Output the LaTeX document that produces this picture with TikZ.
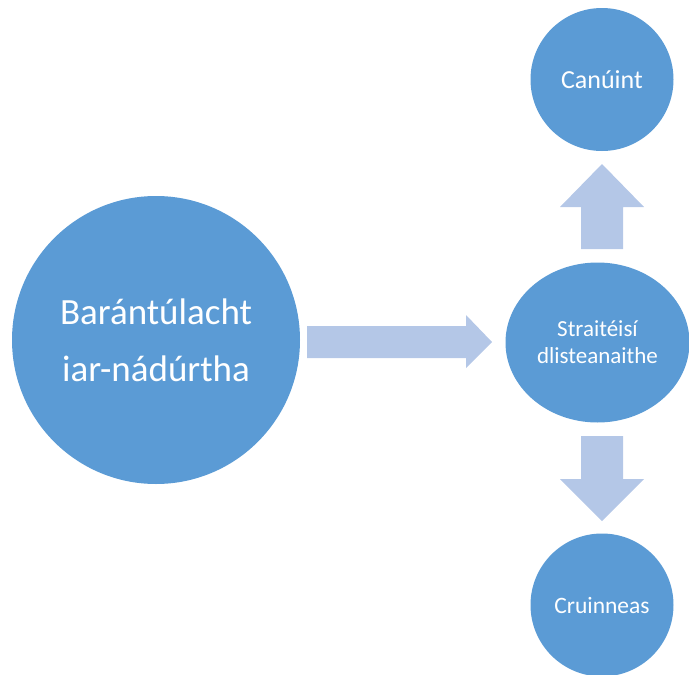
\documentclass[tikz,border=0pt]{standalone}
\usepackage{fontspec}
\setmainfont{Carlito}
\usetikzlibrary{shapes.geometric}
\definecolor{circ}{HTML}{5B9BD5}
\definecolor{arr}{HTML}{B4C7E7}
\begin{document}
\begin{tikzpicture}[x=1pt,y=-1pt,
  bub/.style={circle,fill=circ,draw=none,text=white,align=center,inner sep=0pt},
  blockarrow/.style={fill=arr,draw=none}]
\useasboundingbox (0,0) rectangle (689,675);
\node[bub,minimum size=288pt,font=\fontsize{37}{57}\selectfont] (big) at (156,340) {Barántúlacht\\iar-nádúrtha};
\node[bub,ellipse,minimum width=184pt,minimum height=160pt,font=\fontsize{23}{27}\selectfont] (mid) at (597.5,342.5) {Straitéisí\\dlisteanaithe};
\node[bub,minimum size=143pt,font=\fontsize{26}{30}\selectfont] (top) at (602,79.5) {Canúint};
\node[bub,minimum size=143pt,font=\fontsize{23.5}{28}\selectfont] (bot) at (602,605) {Cruinneas};
% right arrow
\fill[blockarrow] (307,326) -- (466,326) -- (466,315) -- (492,342) -- (466,368) -- (466,358) -- (307,358) -- cycle;
% up arrow
\fill[blockarrow] (581,249) -- (581,207) -- (560,207) -- (602,164) -- (644,207) -- (623,207) -- (623,249) -- cycle;
% down arrow
\fill[blockarrow] (581,436) -- (581,479) -- (560,479) -- (602,521) -- (644,479) -- (623,479) -- (623,436) -- cycle;
\end{tikzpicture}
\end{document}
